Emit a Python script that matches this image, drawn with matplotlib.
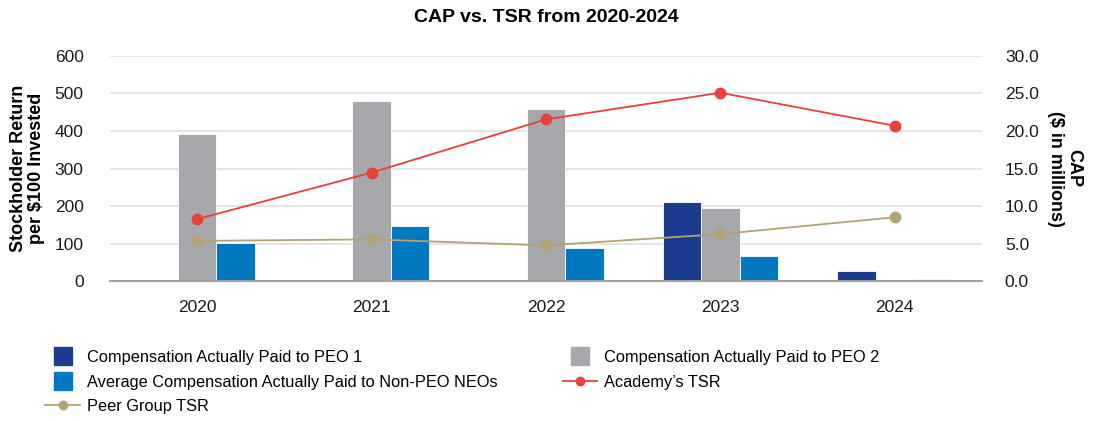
import matplotlib
matplotlib.use("Agg")
import matplotlib.pyplot as plt
from matplotlib.lines import Line2D
import numpy as np

plt.rcParams["font.family"] = ["Liberation Sans", "DejaVu Sans"]

years = ["2020", "2021", "2022", "2023", "2024"]

# CAP in $ millions (right axis)
cap_peo1 = [0.0, 0.0, 0.0, 10.5, 1.4]
cap_peo2 = [19.6, 24.0, 22.9, 9.8, 0.0]
cap_non_peo = [5.1, 7.3, 4.45, 3.4, 0.27]

# value of $100 invested (left axis)
academy_tsr = [165, 289, 431, 502, 414]
peer_tsr = [107, 111, 95, 125, 170]

c_peo1 = "#1c3d8f"
c_peo2 = "#a6a8ab"
c_non_peo = "#0079c1"
c_academy = "#e8403a"
c_peer = "#b3a373"

fig = plt.figure(figsize=(10.93, 4.21), dpi=100)
ax = fig.add_axes([0.1006, 0.3325, 0.7978, 0.5345])
ax2 = ax.twinx()

x = np.arange(len(years))
w = 0.22

# bars go on the CAP axis, behind the TSR lines
ax2.bar(x - w, cap_peo1, w, color=c_peo1, edgecolor="white", linewidth=0.6, zorder=2)
ax2.bar(x, cap_peo2, w, color=c_peo2, edgecolor="white", linewidth=0.6, zorder=2)
ax2.bar(x + w, cap_non_peo, w, color=c_non_peo, edgecolor="white", linewidth=0.6, zorder=2)

ax.plot(x, academy_tsr, color=c_academy, lw=1.3, marker="o", ms=7.5, zorder=3)
ax.plot(x, peer_tsr, color=c_peer, lw=1.3, marker="o", ms=7.5, zorder=3)

ax.set_zorder(ax2.get_zorder() + 1)
ax.patch.set_visible(False)

ax.set_xlim(-0.5, 4.5)
ax.set_ylim(0, 600)
ax2.set_ylim(0, 30)
ax.set_yticks(range(0, 601, 100))
ax2.set_yticks(np.arange(0, 30.1, 5))
ax2.set_yticklabels([f"{v:.1f}" for v in np.arange(0, 30.1, 5)])
ax.set_xticks(x)
ax.set_xticklabels(years)

ax2.grid(axis="y", color="#e3e3e3", lw=1.3, zorder=0)
ax2.set_axisbelow(True)

for a in (ax, ax2):
    for s in ("top", "left", "right"):
        a.spines[s].set_visible(False)
    a.spines["bottom"].set_color("#a0a0a0")
    a.spines["bottom"].set_linewidth(1.3)

ax.tick_params(axis="y", length=0, pad=19, labelsize=12.5, colors="#1a1a1a")
ax.tick_params(axis="x", length=0, pad=13.5, labelsize=12.5, colors="#1a1a1a")
ax2.tick_params(axis="y", length=0, pad=16.5, labelsize=12.5, colors="#1a1a1a")

ax.set_ylabel("Stockholder Return\nper $100 Invested", fontsize=13, fontweight="bold",
              linespacing=1.05, labelpad=7)
ax2.set_ylabel("CAP\n($ in millions)", fontsize=13, fontweight="bold",
               rotation=270, linespacing=1.05, labelpad=31)

fig.text(0.5, 1 - 18 / 421, "CAP vs. TSR from 2020-2024", ha="center", va="center",
         fontsize=14, fontweight="bold")

handles = [
    Line2D([], [], ls="none", marker="s", ms=13, color=c_peo1),
    Line2D([], [], ls="none", marker="s", ms=13, color=c_non_peo),
    Line2D([], [], color=c_peer, lw=1.3, marker="o", ms=6),
    Line2D([], [], ls="none", marker="s", ms=13, color=c_peo2),
    Line2D([], [], color=c_academy, lw=1.3, marker="o", ms=6),
]
labels = [
    "Compensation Actually Paid to PEO 1",
    "Average Compensation Actually Paid to Non-PEO NEOs",
    "Peer Group TSR",
    "Compensation Actually Paid to PEO 2",
    "Academy\u2019s TSR",
]
fig.legend(handles, labels, ncol=2, loc="upper left", bbox_to_anchor=(0.034, 0.188),
           frameon=False, fontsize=11.8, handlelength=2.1, handletextpad=0.43,
           columnspacing=4.0, labelspacing=0.58, borderpad=0)

fig.savefig("out.png", dpi=100)
